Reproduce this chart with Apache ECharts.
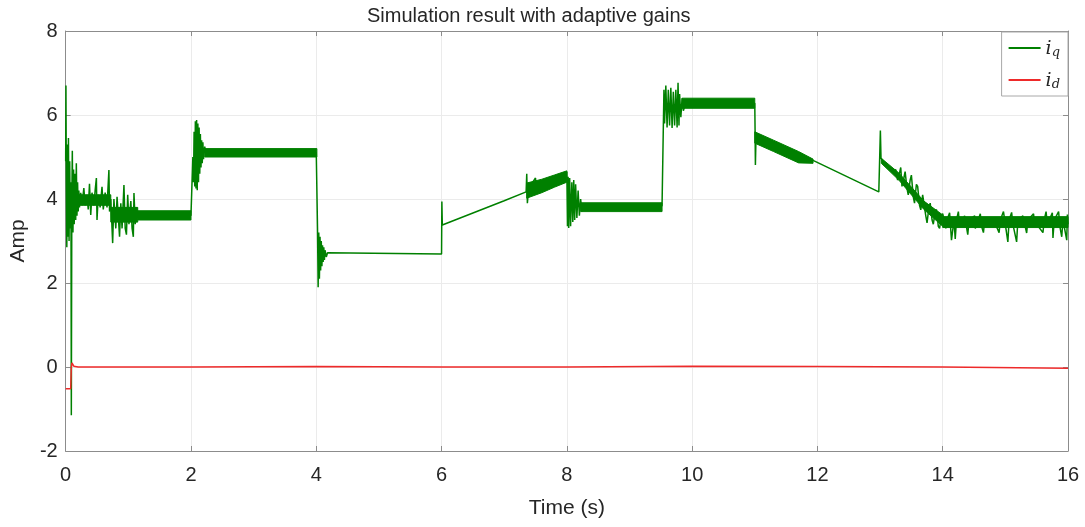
<!DOCTYPE html>
<html>
<head>
<meta charset="utf-8">
<script src="https://cdn.jsdelivr.net/npm/echarts@6/dist/echarts.min.js"></script>
<style>html,body{margin:0;padding:0;background:#fff}#c{width:1085px;height:527px}</style>
</head>
<body>
<div id="c"></div>
<script>
// ---- data ----
const titleText = 'Simulation result with adaptive gains';
const xTicks = [0, 2, 4, 6, 8, 10, 12, 14, 16];
const yTicks = [-2, 0, 2, 4, 6, 8];

// i_q main trace [time (s), current (A)]
const iqPoints = [
  [0,4.9],[0.004,6.7],[0.01,4.5],[0.018,2.85],[0.026,5.3],[0.034,3.1],[0.044,5.45],[0.054,3.0],
  [0.064,4.9],[0.074,3.3],[0.084,4.4],[0.09,-1.15],[0.098,4.0],[0.106,5.15],[0.116,3.2],[0.126,4.7],
  [0.136,3.4],[0.148,4.6],[0.16,3.5],[0.17,4.85],[0.18,3.6],[0.19,4.4],[0.2,3.7],[0.21,4.2],
  [0.22,3.8],[0.24,4.15],[0.26,3.85],[0.29,4.26],[0.31,3.85],[0.34,4.1],[0.36,3.75],[0.38,4.36],
  [0.4,3.62],[0.42,4.15],[0.45,3.85],[0.47,4.2],[0.49,4.5],[0.5,3.5],[0.52,4.1],[0.55,3.8],
  [0.58,4.29],[0.6,3.75],[0.63,4.15],[0.66,3.8],[0.69,4.69],[0.7,3.7],[0.72,4.0],[0.75,2.95],
  [0.77,4.0],[0.8,3.3],[0.82,4.05],[0.86,3.1],[0.88,3.9],[0.9,3.3],[0.93,4.33],[0.95,3.3],
  [0.97,3.15],[0.99,4.1],[1.01,3.4],[1.04,3.95],[1.06,3.3],[1.08,3.1],[1.09,4.14],[1.11,3.4],
  [1.13,3.8],[1.15,3.55],[1.17,3.65],[2.0,3.61],
  [2.02,3.65],[2.03,5.0],[2.04,4.4],[2.05,5.6],[2.06,4.3],[2.07,5.85],[2.08,4.25],[2.09,5.88],
  [2.1,4.21],[2.11,5.8],[2.12,4.4],[2.13,5.7],[2.14,4.6],[2.15,5.55],[2.16,4.75],[2.17,5.4],
  [2.18,4.85],[2.19,5.35],[2.2,4.95],[2.22,5.25],[2.24,5.05],[2.26,5.15],[4.0,5.1],[4.01,5.1],
  [4.02,3.3],[4.03,1.9],[4.04,3.2],[4.05,2.1],[4.06,3.1],[4.07,2.3],[4.08,3.0],[4.09,2.4],
  [4.1,2.9],[4.11,2.5],[4.12,2.85],[4.13,2.55],[4.14,2.78],[4.16,2.62],[4.18,2.72],[4.2,2.69],
  [6.0,2.69],[6.005,3.94],[6.012,3.38],[7.0,3.96],[7.35,4.17],[7.36,4.6],[7.37,3.9],[7.39,4.25],
  [7.5,4.5],[7.51,4.17],[7.53,4.3],[7.99,4.55],[8.0,4.65],[8.01,3.35],
  [8.02,4.53],[8.03,3.31],[8.045,4.5],[8.06,3.35],[8.08,4.4],[8.095,3.45],[8.11,4.45],[8.125,3.5],
  [8.14,4.35],[8.16,3.55],[8.18,4.2],[8.2,3.6],[8.22,4.0],[8.24,3.7],[8.26,3.85],[9.5,3.8],
  [9.52,3.85],[9.55,6.6],[9.56,5.8],[9.58,6.7],[9.6,5.7],[9.62,6.6],[9.64,5.75],[9.66,6.65],
  [9.68,5.69],[9.7,6.55],[9.72,5.75],[9.74,6.6],[9.76,5.7],[9.775,6.77],[9.79,5.75],[9.8,6.5],
  [9.82,5.95],[9.84,6.4],[9.86,6.1],[9.9,6.3],[11.0,6.28],[11.005,5.6],[11.01,4.81],[11.02,5.5],
  [11.93,4.92],[12.98,4.17],[13.0,4.17],[13.005,5.63],[13.015,4.97],[13.1,4.8],[13.2,4.67],
  [13.25,4.7],[13.28,4.45],[13.3,4.55],[13.33,4.75],[13.35,4.3],[13.38,4.5],[13.4,4.65],[13.43,4.25],
  [13.45,4.1],[13.48,4.45],[13.5,4.57],[13.53,4.05],[13.55,3.9],[13.58,4.35],[13.6,4.3],[13.63,3.85],
  [13.65,3.74],[13.68,4.1],[13.7,4.1],[13.73,3.6],[13.75,3.43],[13.78,3.8],[13.8,3.9],[13.83,3.5],
  [13.85,3.4],[13.88,3.7],[13.9,3.75],[13.93,3.35],[13.95,3.3],[13.98,3.6],[14.0,3.65],[14.05,3.3],
  [14.08,3.55],[14.11,3.67],[14.14,3.02],[14.18,3.5],[14.2,3.05],[14.22,3.5],[14.25,3.7],[14.27,3.35],
  [14.3,3.35],[14.35,3.6],[14.4,3.15],[14.42,3.5],[14.51,3.6],[14.52,3.3],[14.6,3.65],[14.62,3.35],
  [14.65,3.2],[14.67,3.5],[14.8,3.55],[14.9,3.2],[14.92,3.5],[14.97,3.7],[15.04,2.98],[15.06,3.5],
  [15.1,3.68],[15.12,3.4],[15.18,2.98],[15.2,3.5],[15.28,3.6],[15.34,3.19],[15.36,3.5],[15.45,3.65],
  [15.47,3.35],[15.5,3.4],[15.6,3.2],[15.62,3.5],[15.65,3.7],[15.67,3.4],[15.75,3.67],[15.76,3.07],
  [15.78,3.5],[15.85,3.7],[15.87,3.35],[15.9,3.1],[15.92,3.5],[15.98,3.02],[15.99,3.63],[16,3.4]
];

// i_q high-frequency oscillation envelopes (time, lower, upper)
const bandTimes = [
  [0.2,0.72],[0.72,1.15],[1.15,2.0],[2.22,4.01],[7.36,7.6,7.8,8.0],
  [8.22,9.52],[9.84,11.0],[11.0,11.3,11.7,11.93],[13.02,13.3,13.7,14.0],[14.0,16.0]
];
const bandLows = [
  [3.85,3.85],[3.45,3.45],[3.5,3.5],[5.0,5.0],[4.02,4.15,4.28,4.4],
  [3.7,3.7],[6.16,6.16],[5.33,5.13,4.86,4.85],[4.85,4.45,3.75,3.35],[3.32,3.32]
];
const bandHighs = [
  [4.1,4.1],[3.8,3.8],[3.72,3.72],[5.2,5.2],[4.38,4.47,4.57,4.67],
  [3.91,3.91],[6.4,6.4],[5.6,5.4,5.13,4.95],[4.97,4.62,3.95,3.62],[3.58,3.58]
];

// i_d trace
const idPoints = [
  [0,-0.52],[0.08,-0.52],[0.09,0.0],[0.1,0.1],[0.13,0.02],[0.2,0.0],[2,0.0],[4,0.01],
  [6,0.0],[8,0.0],[10,0.02],[12,0.01],[14,0.0],[16,-0.03]
];

// ---- chart ----
const green = '#008000';
const red = '#ee2a2a';
const axisColor = '#8c8c8c';
const labelColor = '#262626';
const font = 'Liberation Sans, Arial, sans-serif';

const chart = echarts.init(document.getElementById('c'), null, {renderer: 'canvas'});

const bandSeries = {
  type: 'custom',
  name: 'iq-band',
  silent: true,
  data: bandTimes.map((t, i) => [i]),
  renderItem: function (params, api) {
    const b = api.value(0);
    const ts = bandTimes[b];
    const pts = [];
    for (let k = 0; k < ts.length; k++) pts.push(api.coord([ts[k], bandHighs[b][k]]));
    for (let k = ts.length - 1; k >= 0; k--) pts.push(api.coord([ts[k], bandLows[b][k]]));
    return {type: 'polygon', shape: {points: pts}, style: {fill: green, stroke: green, lineWidth: 1}};
  },
  z: 2
};

const baseAxis = {
  axisLine: {show: true, onZero: false, lineStyle: {color: axisColor, width: 1}},
  axisTick: {show: true, inside: true, length: 5, lineStyle: {color: axisColor}},
  splitLine: {show: false}
};

chart.setOption({
  animation: false,
  backgroundColor: '#fff',
  title: {
    text: titleText, left: 362, top: 1,
    textStyle: {fontFamily: font, fontSize: 20, fontWeight: 'normal', color: labelColor}
  },
  grid: {left: 65, right: 17, top: 31, bottom: 76, containLabel: false},
  legend: {
    data: ['iq', 'id'],
    orient: 'vertical', right: 17, top: 32,
    icon: 'rect', itemWidth: 32, itemHeight: 2, itemGap: 10,
    padding: [5, 8, 5, 7],
    borderColor: '#a8a8a8', borderWidth: 1, backgroundColor: '#fff',
    formatter: function (name) { return name === 'iq' ? '{i|i}{s|q}' : '{i|i}{s|d}'; },
    textStyle: {
      color: labelColor,
      rich: {
        i: {fontFamily: 'DejaVu Serif', fontStyle: 'italic', fontSize: 19, lineHeight: 22, verticalAlign: 'bottom'},
        s: {fontFamily: 'DejaVu Serif', fontStyle: 'italic', fontSize: 13, lineHeight: 22, verticalAlign: 'bottom', padding: [9, 0, 0, 0]}
      }
    }
  },
  xAxis: [
    Object.assign({}, baseAxis, {
      type: 'value', min: 0, max: 16, interval: 2, position: 'bottom',
      name: 'Time (s)', nameLocation: 'middle', nameGap: 47,
      nameTextStyle: {fontFamily: font, fontSize: 21, color: labelColor},
      axisLabel: {fontFamily: font, fontSize: 20, color: labelColor, margin: 14,
        formatter: v => xTicks.includes(v) ? String(v) : ''},
      splitLine: {show: true, lineStyle: {color: '#ebebeb', width: 1}}
    }),
    Object.assign({}, baseAxis, {
      type: 'value', min: 0, max: 16, interval: 2, position: 'top',
      axisLabel: {show: false}
    })
  ],
  yAxis: [
    Object.assign({}, baseAxis, {
      type: 'value', min: -2, max: 8, interval: 2, position: 'left',
      name: 'Amp', nameLocation: 'middle', nameGap: 34,
      nameTextStyle: {fontFamily: font, fontSize: 21, color: labelColor},
      axisLabel: {fontFamily: font, fontSize: 20, color: labelColor, margin: 8,
        formatter: v => yTicks.includes(v) ? String(v) : ''},
      splitLine: {show: true, lineStyle: {color: '#ebebeb', width: 1}}
    }),
    Object.assign({}, baseAxis, {
      type: 'value', min: -2, max: 8, interval: 2, position: 'right',
      axisLabel: {show: false}
    })
  ],
  series: [
    bandSeries,
    {
      name: 'iq', type: 'line', data: iqPoints, showSymbol: false, symbol: 'none',
      lineStyle: {color: green, width: 1.5}, itemStyle: {color: green}, z: 3
    },
    {
      name: 'id', type: 'line', data: idPoints, showSymbol: false, symbol: 'none',
      lineStyle: {color: red, width: 1.5}, itemStyle: {color: red}, z: 4
    }
  ]
});
</script>
</body>
</html>
